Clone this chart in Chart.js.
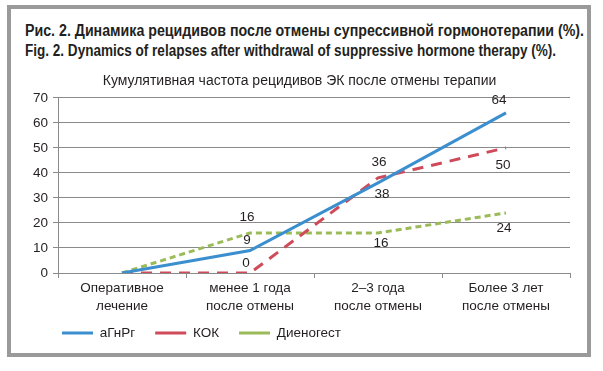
<!DOCTYPE html>
<html><head><meta charset="utf-8">
<script src="https://cdn.jsdelivr.net/npm/chart.js@4.4.1/dist/chart.umd.min.js"></script>
<style>
html,body{margin:0;padding:0;background:#fff;}
#wrap{position:relative;width:603px;height:371px;overflow:hidden;background:#fff;}
#frame{position:absolute;left:7px;top:5px;width:584px;height:352px;box-sizing:border-box;border:4px solid #9a9a9a;}
.cap{position:absolute;left:25px;font-family:'Liberation Sans',Arial,sans-serif;font-weight:bold;font-size:16px;line-height:18px;color:#231f20;white-space:nowrap;transform-origin:0 50%;}
#c{position:absolute;left:0;top:0;width:603px;height:371px;}
</style></head><body>
<div id="wrap">
<div id="frame"></div>
<div class="cap" id="cap1" style="top:22px">Рис. 2. Динамика рецидивов после отмены супрессивной гормонотерапии (%).</div>
<div class="cap" id="cap2" style="top:42px">Fig. 2. Dynamics of relapses after withdrawal of suppressive hormone therapy (%).</div>
<canvas id="c" width="603" height="371"></canvas>
</div>
<script>
// ---- data ----
const chartTitle = 'Кумулятивная частота рецидивов ЭК после отмены терапии';
const categories = [
  ['Оперативное', 'лечение'],
  ['менее 1 года', 'после отмены'],
  ['2–3 года', 'после отмены'],
  ['Более 3 лет', 'после отмены']
];
const seriesNames = ['аГнРг', 'КОК', 'Диеногест'];
const agnrgValues = [0, 9, 36, 64];
const kokValues = [0, 0, 38, 50];
const dienogestValues = [0, 16, 16, 24];
const yMin = 0, yMax = 70, yStep = 10;

// ---- label placement (style) ----
const labelDy = [[null, -10, -21, -13], [null, -10, 16, 17], [null, -16, 10, 15]];
const labelDx = [[0, -3, 1, -7], [0, -4, 4, -3], [0, -3, 3, -2]];

// fit caption widths
function fitCap(id, target){
  const el = document.getElementById(id);
  const w = el.getBoundingClientRect().width;
  el.style.transform = 'scaleX(' + (target / w) + ')';
}
fitCap('cap1', 559);
fitCap('cap2', 531);

const FONT = "'Liberation Sans', Arial, sans-serif";
const FS = 13.5;
const TEXT = '#231f20';
const GRID = '#8a8a8a';

const valueLabels = {
  id: 'valueLabels',
  afterDatasetsDraw(chart) {
    const ctx = chart.ctx;
    chart.data.datasets.forEach((ds, i) => {
      const meta = chart.getDatasetMeta(i);
      meta.data.forEach((pt, j) => {
        const dy = labelDy[i][j];
        if (dy === null) return;
        ctx.save();
        ctx.font = FS + 'px ' + FONT;
        ctx.fillStyle = TEXT;
        ctx.textAlign = 'center';
        ctx.textBaseline = 'middle';
        ctx.fillText(String(ds.data[j]), pt.x + labelDx[i][j], pt.y + dy);
        ctx.restore();
      });
    });
  }
};

const legendPlace = {
  id: 'legendPlace',
  beforeLayout(chart) {
    if (chart.legend) chart.legend.isHorizontal = () => true;
  },
  afterLayout(chart) {
    const lg = chart.legend;
    if (!lg) return;
    const pad = lg.options.labels.padding;
    lg.left = 62 - pad;
    lg.right = lg.left + 520;
    lg.top = 333 - FS / 2 - pad;
    lg.bottom = lg.top + 40;
  }
};

new Chart(document.getElementById('c'), {
  type: 'line',
  data: {
    labels: categories,
    datasets: [
      { label: seriesNames[0], data: agnrgValues, borderColor: '#3b8fce', backgroundColor: '#3b8fce', borderWidth: 3, borderDash: [] },
      { label: seriesNames[1], data: kokValues, borderColor: '#d04b5a', backgroundColor: '#d04b5a', borderWidth: 3, borderDash: [11, 8] },
      { label: seriesNames[2], data: dienogestValues, borderColor: '#9bbb59', backgroundColor: '#9bbb59', borderWidth: 3, borderDash: [6, 4] }
    ]
  },
  options: {
    responsive: false,
    animation: false,
    devicePixelRatio: 1,
    elements: { point: { radius: 0, hoverRadius: 0 }, line: { tension: 0, borderCapStyle: 'butt' } },
    layout: { padding: { left: 29, right: 33, top: 73, bottom: 48 } },
    plugins: {
      title: { display: true, text: chartTitle, color: TEXT, font: { family: FONT, size: 14, weight: 'normal', lineHeight: 1.2 }, padding: { top: 0, bottom: 8 } },
      legend: {
        position: 'chartArea', align: 'start',
        labels: { usePointStyle: true, pointStyle: 'line', pointStyleWidth: 31, boxHeight: 14, padding: 20, color: TEXT, font: { family: FONT, size: FS } }
      },
      tooltip: { enabled: false }
    },
    scales: {
      x: {
        offset: true,
        grid: { display: true, drawOnChartArea: false, drawTicks: true, tickLength: 5, offset: true, color: GRID },
        border: { display: true, color: GRID, width: 1 },
        ticks: { color: TEXT, font: { family: FONT, size: FS, lineHeight: 1.3 }, padding: 2, maxRotation: 0, autoSkip: false },
        afterFit(s) { s.height = 50; }
      },
      y: {
        min: yMin, max: yMax,
        grid: { color: GRID, tickLength: 5, drawTicks: true },
        border: { display: true, color: GRID, width: 1 },
        ticks: { stepSize: yStep, color: TEXT, font: { family: FONT, size: FS }, padding: 5 },
        afterFit(s) { s.width = 29; }
      }
    }
  },
  plugins: [valueLabels, legendPlace]
});
</script>
</body></html>
